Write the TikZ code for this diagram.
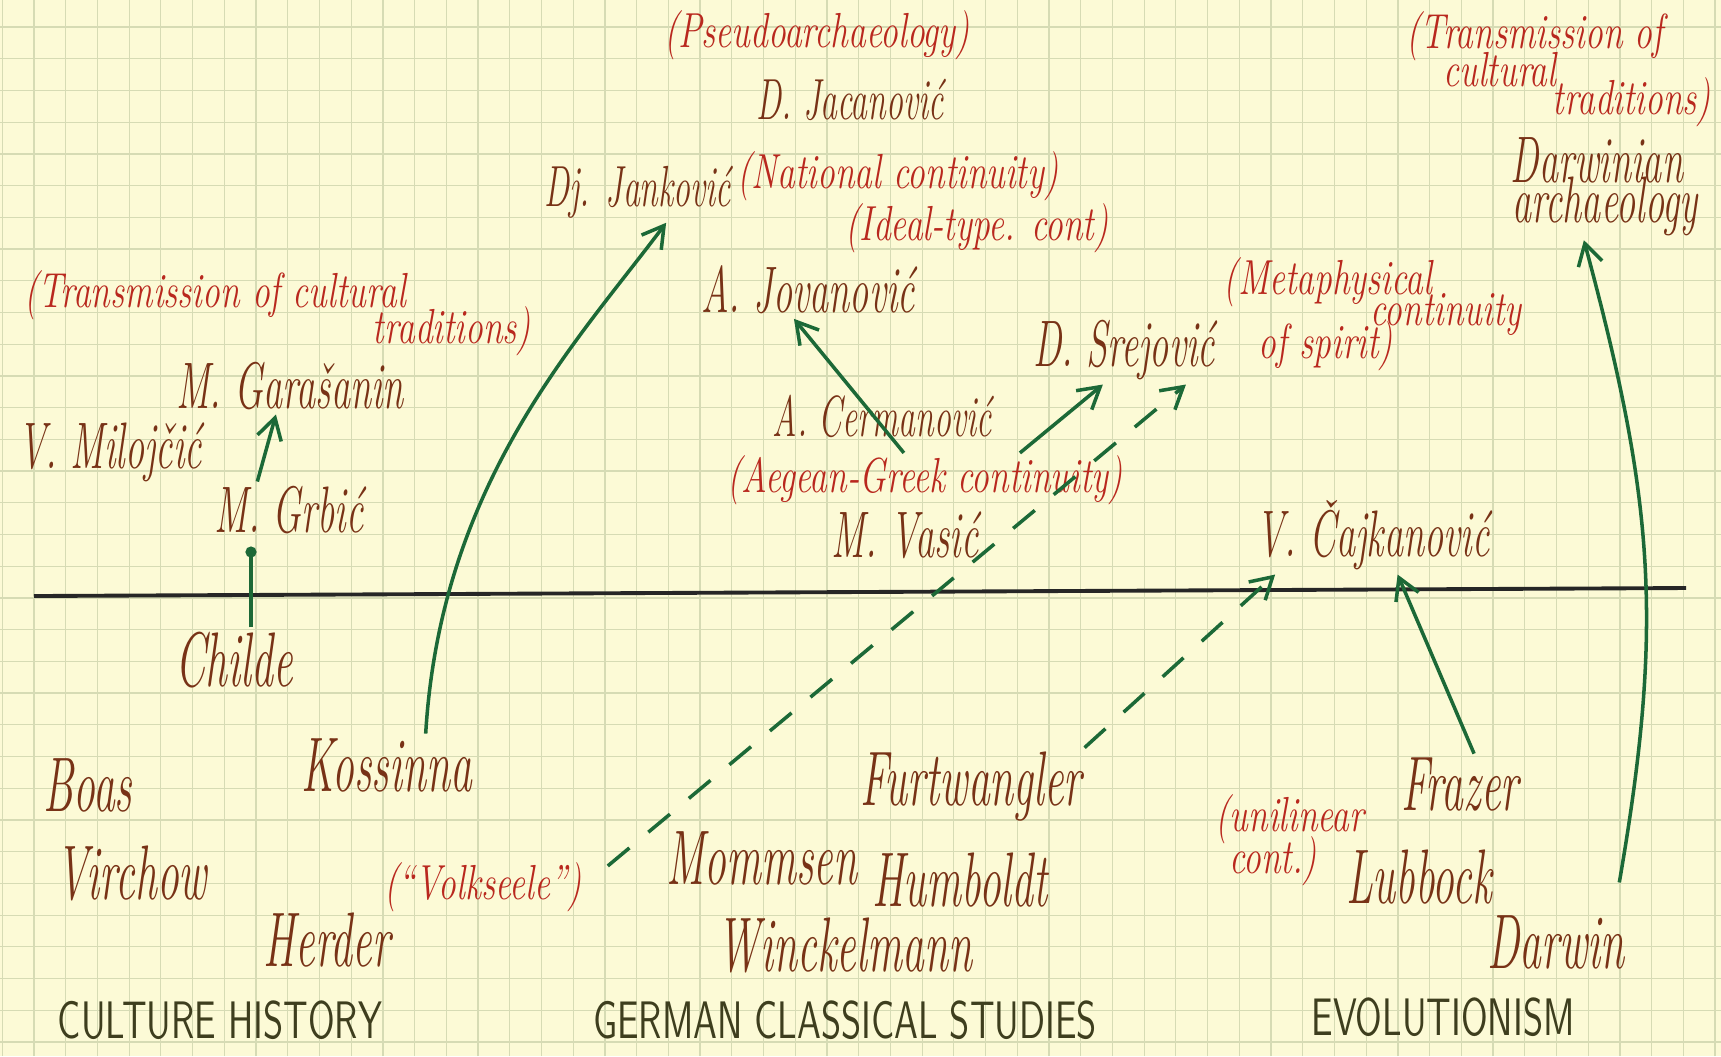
\documentclass[tikz,border=0pt]{standalone}
\usetikzlibrary{arrows.meta}

\definecolor{paper}{RGB}{252,250,214}
\definecolor{gridline}{RGB}{214,219,180}
\definecolor{redink}{RGB}{185,40,30}
\definecolor{brownink}{RGB}{120,50,22}
\definecolor{greenink}{RGB}{28,105,55}
\definecolor{headink}{RGB}{62,62,30}

\begin{document}
\begin{tikzpicture}[x=0.01cm,y=-0.01cm,
        person/.style={text=brownink,font=\fontsize{17}{19}\selectfont\itshape,xscale=0.64,yscale=1.1,inner sep=1pt},
        minor/.style={text=brownink,font=\fontsize{15}{17}\selectfont\itshape,xscale=0.64,yscale=1.1,inner sep=1pt},
        bigperson/.style={text=brownink,font=\fontsize{20}{22}\selectfont\itshape,xscale=0.62,yscale=1.1,inner sep=1pt},
        remark/.style={text=redink,font=\fontsize{14}{15}\selectfont\itshape,xscale=0.72,inner sep=0.5pt},
        school/.style={text=headink,font=\fontsize{15}{16}\selectfont\sffamily,xscale=0.7},
        link/.style={draw=greenink,line width=1pt,-{Straight Barb[length=6pt,width=7pt]}},
        dashlink/.style={link,dash pattern=on 8pt off 7pt},
        stem/.style={draw=greenink,line width=1pt}]
                        \useasboundingbox (0,0) rectangle (1721,1056);
                        \fill[paper] (0,0) rectangle (1721,1056);
                        \draw[gridline,line width=0.35pt,step=0.317cm,shift={(34,27)}] (-34,-27) grid (1687,1029);
                        \draw[line width=1.1pt,color=black!85] (34,596) -- (1686,588);

                        \node[remark] (pseudo) at (817,35) {(Pseudoarchaeology)};
                        \node[minor] (jacan) at (850,100) {D. Jacanović};
                        \node[minor] (jank) at (638,192) {Dj. Janković};
                        \node[remark] (natcont) at (898,176) {(National continuity)};
                        \node[remark] (ideal) at (977,228) {(Ideal-type. cont)};
                        \node[person] (jovan) at (808,290) {A. Jovanović};
                        \node[person] (srej) at (1124,350) {D. Srejović};
                        \node[remark] (meta1) at (1328,282) {(Metaphysical};
                        \node[remark] (meta2) at (1446,314) {continuity};
                        \node[remark] (meta3) at (1326,346) {of spirit)};

                        \node[remark] (trans1a) at (215,295) {(Transmission of cultural};
                        \node[remark] (trans1b) at (452,331) {traditions)};
                        \node[person] (garas) at (290,386) {M. Garašanin};
                        \node[person] (milo) at (110,452) {V. Milojčić};
                        \node[person] (grbic) at (289,510) {M. Grbić};

                        \node[minor] (cerman) at (882,416) {A. Cermanović};
                        \node[remark] (aegean) at (925,480) {(Aegean-Greek continuity)};
                        \node[person] (vasic) at (905,535) {M. Vasić};
                        \node[person] (cajk) at (1373,535) {V. Čajkanović};

                        \node[remark] (trans2a) at (1535,36) {(Transmission of};
                        \node[remark] (trans2b) at (1500,70) {cultural};
                        \node[remark] (trans2c) at (1632,102) {traditions)};
                        \node[person] (darw1) at (1597,160) {Darwinian};
                        \node[person] (darw2) at (1605,206) {archaeology};

                        \node[bigperson] (childe) at (234,660) {Childe};
                        \node[bigperson] (koss) at (387,765) {Kossinna};
                        \node[bigperson] (boas) at (88,785) {Boas};
                        \node[bigperson] (virchow) at (132,873) {Virchow};
                        \node[bigperson] (herder) at (327,940) {Herder};
                        \node[remark] (volk) at (483,887) {(“Volkseele”)};

                        \node[bigperson] (furt) at (971,787) {Furtwangler};
                        \node[bigperson] (mommsen) at (762,858) {Mommsen};
                        \node[bigperson] (humb) at (960,880) {Humboldt};
                        \node[bigperson] (winck) at (845,945) {Winckelmann};

                        \node[remark] (unilin1) at (1290,819) {(unilinear};
                        \node[remark] (unilin2) at (1273,861) {cont.)};
                        \node[bigperson] (frazer) at (1460,785) {Frazer};
                        \node[bigperson] (lubbock) at (1419,877) {Lubbock};
                        \node[bigperson] (darwin) at (1556,942) {Darwin};

                        \node[school] (hcult) at (220,1020) {CULTURE HISTORY};
                        \node[school] (hgerm) at (845,1020) {GERMAN CLASSICAL STUDIES};
                        \node[school] (hevol) at (1443,1017) {EVOLUTIONISM};

                        \coordinate (grbdot) at (251,552);
                        \draw[stem] (grbdot |- childe.north) -- (grbdot);
                        \fill[greenink] (grbdot) circle[radius=1.6pt];
                        \draw[link] ([xshift=-9pt]grbic.north) -- ([xshift=-4pt]garas.south);
                        \draw[link] ([xshift=11pt]koss.north) .. controls +(15,-250) and +(-90,120) .. ([xshift=8pt]jank.south);
                        \draw[link] ([xshift=-6pt]aegean.north) -- ([xshift=-4pt]jovan.south);
                        \draw[link] ([xshift=27pt]aegean.north) -- ([xshift=-6pt]srej.south);
                        \draw[dashlink] ([xshift=7pt,yshift=6pt]volk.east) -- ([xshift=-9pt]srej.south east);
                        \draw[dashlink] (furt.north east) -- ([xshift=6pt]cajk.south west);
                        \draw[link] ([xshift=4pt]frazer.north) -- ([xshift=7pt]cajk.south);
                        \draw[link] ([xshift=18pt,yshift=8pt]darwin.north) .. controls +(45,-260) and +(70,260) .. ([xshift=-6pt]darw2.south);
                    \end{tikzpicture}
\end{document}
